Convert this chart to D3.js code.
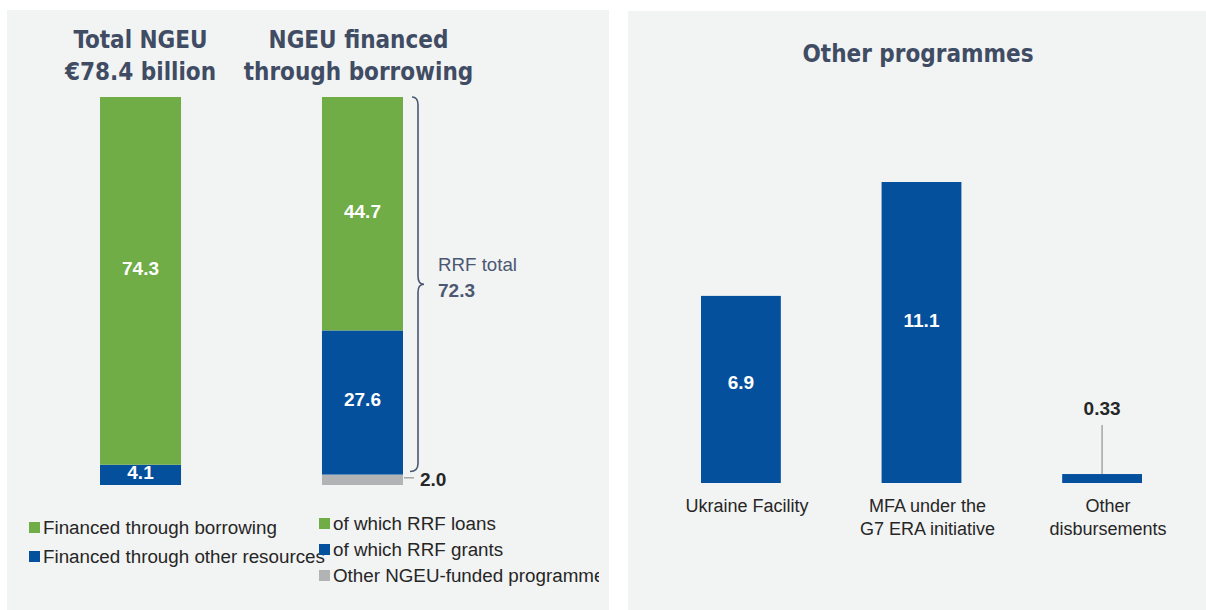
<!DOCTYPE html>
<html>
<head>
<meta charset="utf-8">
<script src="https://cdn.jsdelivr.net/npm/d3@7"></script>
<style>
  body { margin: 0; background: #fff; }
  svg { display: block; }
</style>
</head>
<body>
<svg id="chart" width="1206" height="610"></svg>
<script>
// left panel: NGEU split
const leftBarKeys = ["total", "borrowing"];
const leftTitles = [["Total NGEU", "€78.4 billion"], ["NGEU financed", "through borrowing"]];
const totalSegments = ["Financed through borrowing", "Financed through other resources"];
const totalValues = [74.3, 4.1];
const borrowSegments = ["of which RRF loans", "of which RRF grants", "Other NGEU-funded programmes"];
const borrowValues = [44.7, 27.6, 2.0];
const rrfTotal = 72.3;

// right panel: other programmes
const programmes = [["Ukraine Facility"], ["MFA under the", "G7 ERA initiative"], ["Other", "disbursements"]];
const programmeValues = [6.9, 11.1, 0.33];

const green = "#70ad47", blue = "#04509c", grey = "#b2b3b5";
const titleColor = "#3f4c63", braceColor = "#4b5872", textColor = "#262626";
const panelBg = "#f2f3f3";
const sans = "Liberation Sans, Arial, sans-serif";

const svg = d3.select("#chart");

// panels
svg.append("rect").attr("x", 7).attr("y", 10).attr("width", 602).attr("height", 600).attr("fill", panelBg);
svg.append("rect").attr("x", 628).attr("y", 11).attr("width", 578).attr("height", 599).attr("fill", panelBg);

svg.append("clipPath").attr("id", "leftClip")
  .append("rect").attr("x", 7).attr("y", 10).attr("width", 592).attr("height", 600);

const left = svg.append("g").attr("clip-path", "url(#leftClip)");

const xLeft = d3.scaleBand().domain(leftBarKeys).range([100, 403]).paddingInner(0.635).paddingOuter(0);
const yShare = d3.scaleLinear().domain([0, 1]).range([485, 97]);

const stackBar = (names, values, colors) => {
  const sum = d3.sum(values);
  let acc = 0;
  return values.map((v, i) => {
    const d = { name: names[i], value: v, color: colors[i], y0: acc / sum, y1: (acc + v) / sum };
    acc += v;
    return d;
  });
};
// stacked from bottom: other resources / grey first
const totalStack = stackBar([totalSegments[1], totalSegments[0]], [totalValues[1], totalValues[0]], [blue, green]);
const borrowStack = stackBar([borrowSegments[2], borrowSegments[1], borrowSegments[0]],
  [borrowValues[2], borrowValues[1], borrowValues[0]], [grey, blue, green]);

[[leftBarKeys[0], totalStack], [leftBarKeys[1], borrowStack]].forEach(([key, stack]) => {
  const g = left.append("g");
  g.selectAll("rect").data(stack).join("rect")
    .attr("x", xLeft(key))
    .attr("width", xLeft.bandwidth())
    .attr("y", d => yShare(d.y1))
    .attr("height", d => yShare(d.y0) - yShare(d.y1))
    .attr("fill", d => d.color);
  g.selectAll("text").data(stack.filter(d => d.value >= 4)).join("text")
    .attr("x", xLeft(key) + xLeft.bandwidth() / 2)
    .attr("y", d => (yShare(d.y0) + yShare(d.y1)) / 2 + (d.value > 60 ? -6 : 4))
    .attr("text-anchor", "middle")
    .attr("fill", "#fff")
    .attr("font-family", sans)
    .attr("font-weight", "bold")
    .attr("font-size", 19)
    .text(d => d3.format(".1f")(d.value));
});

// small grey segment label with leader
const greySeg = borrowStack[0];
const gx = xLeft("borrowing") + xLeft.bandwidth();
const gy = (yShare(greySeg.y0) + yShare(greySeg.y1)) / 2 - 2;
left.append("line").attr("x1", gx + 1).attr("x2", gx + 11).attr("y1", gy).attr("y2", gy)
  .attr("stroke", "#a6a6a6").attr("stroke-width", 1.5);
left.append("text").attr("x", gx + 17).attr("y", gy + 8)
  .attr("font-family", sans).attr("font-weight", "bold")
  .attr("font-size", 19).attr("fill", textColor)
  .text(d3.format(".1f")(greySeg.value));

// brace over RRF segments
const bTop = yShare(1), bBot = yShare(borrowStack[1].y0) - 3;
const bMid = (bTop + bBot) / 2;
const bx = gx + 15;
left.append("path")
  .attr("d", `M${bx - 6},${bTop} Q${bx},${bTop} ${bx},${bTop + 8} L${bx},${bMid - 8} Q${bx},${bMid} ${bx + 6},${bMid}
              Q${bx},${bMid} ${bx},${bMid + 8} L${bx},${bBot - 8} Q${bx},${bBot} ${bx - 8},${bBot}`)
  .attr("fill", "none").attr("stroke", braceColor).attr("stroke-width", 1.6);
left.append("text").attr("x", 438).attr("y", bMid - 13)
  .attr("font-family", sans).attr("font-size", 19)
  .attr("fill", braceColor).attr("textLength", 79).attr("lengthAdjust", "spacingAndGlyphs")
  .text("RRF total");
left.append("text").attr("x", 438).attr("y", bMid + 13)
  .attr("font-family", sans).attr("font-size", 19).attr("font-weight", "bold")
  .attr("fill", braceColor).text(d3.format(".1f")(rrfTotal));

// titles
leftBarKeys.forEach((key, i) => {
  const cx = xLeft(key) + xLeft.bandwidth() / 2 + (i === 0 ? 0 : -4);
  const t = left.append("text")
    .attr("x", cx)
    .attr("text-anchor", "middle")
    .attr("font-family", "DejaVu Sans Condensed, DejaVu Sans, sans-serif")
    .attr("font-weight", "bold").attr("font-size", 24).attr("fill", titleColor);
  leftTitles[i].forEach((line, j) => {
    t.append("tspan").attr("x", cx).attr("y", 48 + j * 32).text(line);
  });
});

// legends
const legend1 = [{ name: totalSegments[0], color: green }, { name: totalSegments[1], color: blue }];
const legend2 = [{ name: borrowSegments[0], color: green }, { name: borrowSegments[1], color: blue }, { name: borrowSegments[2], color: grey }];
const drawLegend = (items, x, y, step) => {
  const g = left.append("g").attr("transform", `translate(${x},${y})`);
  const it = g.selectAll("g").data(items).join("g").attr("transform", (d, i) => `translate(0,${i * step})`);
  it.append("rect").attr("x", 0).attr("y", -11).attr("width", 11).attr("height", 11).attr("fill", d => d.color);
  it.append("text").attr("x", 14).attr("y", 1)
    .attr("font-family", sans).attr("font-size", 18.8).attr("fill", textColor)
    .text(d => d.name);
};
drawLegend(legend1, 29, 533, 29);
drawLegend(legend2, 319, 529, 26);

// right panel
const right = svg.append("g");
const xRight = d3.scaleBand().domain(programmes.map(d => d.join(" "))).range([701, 1142]).paddingInner(0.558).paddingOuter(0);
const yRight = d3.scaleLinear().domain([0, 11.1]).range([483, 182]);

right.append("text").attr("x", 918).attr("y", 62).attr("text-anchor", "middle")
  .attr("font-family", "DejaVu Sans Condensed, DejaVu Sans, sans-serif")
  .attr("font-weight", "bold").attr("font-size", 24).attr("fill", titleColor)
  .text("Other programmes");

const data = programmes.map((p, i) => ({ key: p.join(" "), lines: p, value: programmeValues[i] }));

right.selectAll("rect.bar").data(data).join("rect").attr("class", "bar")
  .attr("x", d => xRight(d.key)).attr("width", xRight.bandwidth())
  .attr("y", d => yRight(d.value)).attr("height", d => yRight(0) - yRight(d.value))
  .attr("fill", blue);

right.selectAll("text.val").data(data).join("text").attr("class", "val")
  .attr("x", d => xRight(d.key) + xRight.bandwidth() / 2)
  .attr("y", d => d.value >= 1 ? (yRight(0) + yRight(d.value)) / 2 + (d.value > 10 ? -6 : 0) : yRight(d.value) - 59)
  .attr("text-anchor", "middle")
  .attr("font-family", sans).attr("font-weight", "bold").attr("font-size", 19)
  .attr("fill", d => d.value >= 1 ? "#fff" : textColor)
  .text(d => d.value >= 1 ? d3.format(".1f")(d.value) : d3.format(".2f")(d.value));

right.selectAll("line.lead").data(data.filter(d => d.value < 1)).join("line").attr("class", "lead")
  .attr("x1", d => xRight(d.key) + xRight.bandwidth() / 2).attr("x2", d => xRight(d.key) + xRight.bandwidth() / 2)
  .attr("y1", d => yRight(d.value) - 49).attr("y2", d => yRight(d.value))
  .attr("stroke", "#a6a6a6").attr("stroke-width", 1.5);

const cat = right.selectAll("text.cat").data(data).join("text").attr("class", "cat")
  .attr("text-anchor", "middle")
  .attr("font-family", sans).attr("font-size", 18).attr("fill", textColor);
cat.selectAll("tspan").data(d => d.lines.map(l => ({ l, x: xRight(d.key) + xRight.bandwidth() / 2 + 6 }))).join("tspan")
  .attr("x", d => d.x).attr("y", (d, i) => 512 + i * 23).text(d => d.l);
</script>
</body>
</html>
